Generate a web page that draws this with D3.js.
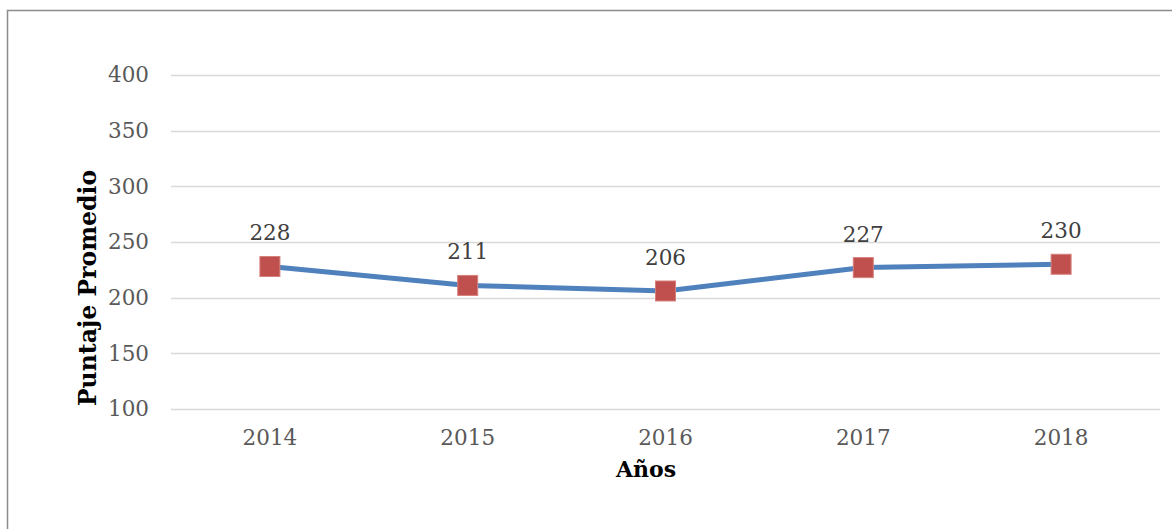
<!DOCTYPE html>
<html>
<head>
<meta charset="utf-8">
<script src="https://cdn.jsdelivr.net/npm/d3@7"></script>
<style>
  body { margin: 0; background: #fff; }
  svg { display: block; }
</style>
</head>
<body>
<div id="chart"><svg></svg></div>
<script>
//chart data
var years = ['2014', '2015', '2016', '2017', '2018'];
var puntajes = [228, 211, 206, 227, 230];
var yTicks = [100, 150, 200, 250, 300, 350, 400];

var width = 1172, height = 529;
var margin = {top: 75, right: 12, bottom: 120, left: 171};
var font = '"DejaVu Serif", "Liberation Serif", serif';

var svg = d3.select('#chart svg')
	.attr('width', width)
	.attr('height', height);

//outer frame (cut on the right and bottom like the original)
svg.append('rect')
	.attr('x', 7.5).attr('y', 10.5)
	.attr('width', width + 20).attr('height', height + 20)
	.attr('fill', 'none')
	.attr('stroke', '#8c8c8c')
	.attr('stroke-width', 1.5);

var x = d3.scaleBand()
	.domain(years)
	.range([margin.left, width - margin.right]);

var y = d3.scaleLinear()
	.domain([100, 400])
	.range([409, margin.top]);

//gridlines
svg.append('g')
	.selectAll('line')
	.data(yTicks)
	.enter().append('line')
	.attr('x1', margin.left).attr('x2', width - margin.right)
	.attr('y1', function(d) { return Math.round(y(d)) + 0.5; })
	.attr('y2', function(d) { return Math.round(y(d)) + 0.5; })
	.attr('stroke', '#d9d9d9')
	.attr('stroke-width', 1.5);

//y axis labels
var yAxis = svg.append('g')
	.attr('transform', 'translate(' + margin.left + ',0)')
	.call(d3.axisLeft(y).tickValues(yTicks).tickSize(0).tickPadding(22));
yAxis.select('.domain').remove();
yAxis.selectAll('text')
	.attr('font-family', font)
	.attr('font-size', 21.5)
	.attr('fill', '#595959');

//x axis labels
var xAxis = svg.append('g')
	.attr('transform', 'translate(0,409)')
	.call(d3.axisBottom(x).tickSize(0).tickPadding(21));
xAxis.select('.domain').remove();
xAxis.selectAll('text')
	.attr('font-family', font)
	.attr('font-size', 21.5)
	.attr('fill', '#595959');

//axis titles
svg.append('text')
	.attr('x', 646).attr('y', 477)
	.attr('text-anchor', 'middle')
	.attr('font-family', font)
	.attr('font-weight', 'bold')
	.attr('font-size', 22)
	.attr('fill', '#000')
	.text('Años');

svg.append('text')
	.attr('transform', 'translate(96,288) rotate(-90)')
	.attr('text-anchor', 'middle')
	.attr('font-family', font)
	.attr('font-weight', 'bold')
	.attr('font-size', 23.5)
	.attr('fill', '#000')
	.text('Puntaje Promedio');

var cx = function(d, i) { return x(years[i]) + x.bandwidth() / 2; };

//line
var line = d3.line()
	.x(function(d, i) { return cx(d, i); })
	.y(function(d) { return y(d); });

svg.append('path')
	.datum(puntajes)
	.attr('d', line)
	.attr('fill', 'none')
	.attr('stroke', '#4f81bd')
	.attr('stroke-width', 5)
	.attr('stroke-linejoin', 'round');

//markers
svg.append('g')
	.selectAll('rect')
	.data(puntajes)
	.enter().append('rect')
	.attr('x', function(d, i) { return cx(d, i) - 10; })
	.attr('y', function(d) { return y(d) - 10; })
	.attr('width', 20).attr('height', 20)
	.attr('fill', '#c0504d')
	.attr('stroke', '#d6807d')
	.attr('stroke-width', 1);

//data labels
svg.append('g')
	.selectAll('text')
	.data(puntajes)
	.enter().append('text')
	.attr('x', function(d, i) { return cx(d, i); })
	.attr('y', function(d) { return y(d) - 26; })
	.attr('text-anchor', 'middle')
	.attr('font-family', font)
	.attr('font-size', 21.5)
	.attr('fill', '#404040')
	.text(function(d) { return d; });
</script>
</body>
</html>
